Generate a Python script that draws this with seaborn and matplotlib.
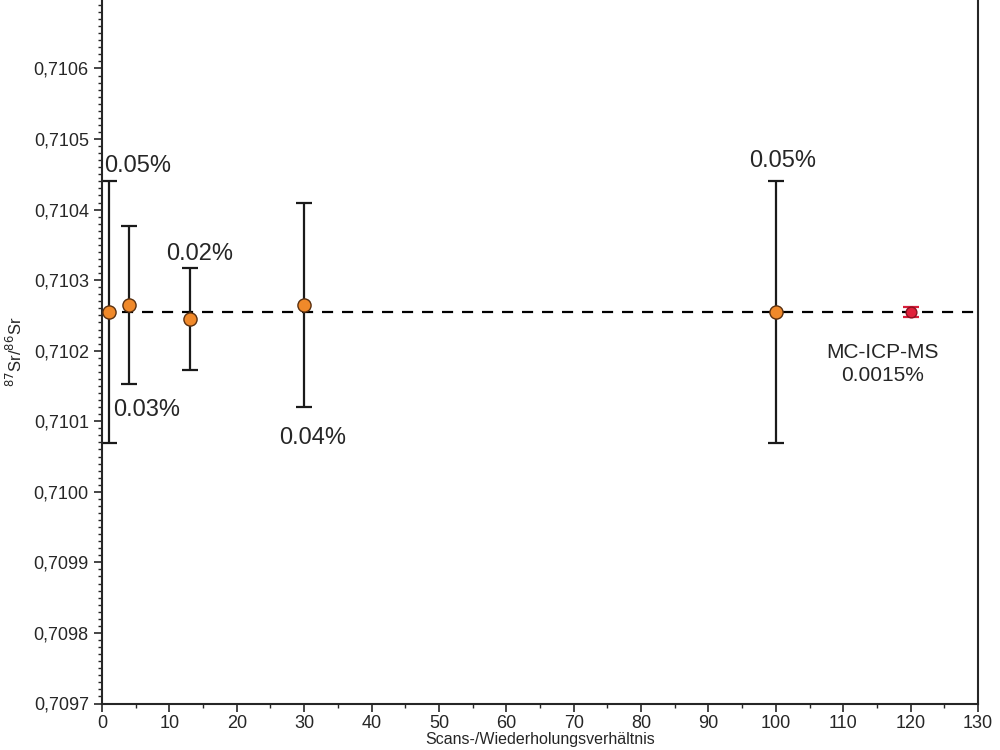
import numpy as np
import pandas as pd
import matplotlib
matplotlib.use("Agg")
import matplotlib.pyplot as plt
import seaborn as sns
from matplotlib.ticker import MultipleLocator, FuncFormatter

# values
scans = [1, 4, 13, 30, 100]
ratio = [0.710255, 0.710265, 0.710245, 0.710265, 0.710255]
err = [0.000186, 0.000112, 0.000072, 0.000145, 0.000186]
pct_labels = ["0.05%", "0.03%", "0.02%", "0.04%", "0.05%"]

mc_x = [120]
mc_y = [0.710255]
mc_err = [0.0000075]
mc_label = "MC-ICP-MS\n0.0015%"

ref_line = 0.710255

sns.set_style("ticks")
plt.rcParams['font.family'] = ['Liberation Sans', 'DejaVu Sans']

df = pd.DataFrame({"scans": scans, "ratio": ratio})

fig = plt.figure(figsize=(10, 7.5), dpi=100)
ax = fig.add_axes([0.102, 0.062, 0.876, 0.938])

ax.axhline(ref_line, color="black", ls=(0, (5, 4)), lw=1.6, zorder=1)
ax.errorbar(scans, ratio, yerr=err, fmt="none", ecolor="#1a1a1a",
            elinewidth=1.6, capsize=6, capthick=1.6, zorder=2)
ax.errorbar(mc_x, mc_y, yerr=mc_err, fmt="none", ecolor="#d81e3a",
            elinewidth=1.6, capsize=6, capthick=1.6, zorder=2)
sns.scatterplot(data=df, x="scans", y="ratio", ax=ax, s=90,
                color="#f0892a", edgecolor="#5a3010", linewidth=1, zorder=3)
sns.scatterplot(x=mc_x, y=mc_y, ax=ax, s=60, color="#e0203a",
                edgecolor="#8a1020", linewidth=1, zorder=3)

# percentage labels
ax.text(0.3, 0.710446, pct_labels[0], fontsize=17, ha="left", va="bottom")
ax.text(1.6, 0.710132, pct_labels[1], fontsize=17, ha="left", va="top")
ax.text(14.5, 0.710322, pct_labels[2], fontsize=17, ha="center", va="bottom")
ax.text(31.3, 0.710092, pct_labels[3], fontsize=17, ha="center", va="top")
ax.text(101, 0.710453, pct_labels[4], fontsize=17, ha="center", va="bottom")
ax.text(115.9, 0.710211, mc_label, fontsize=15, ha="center", va="top",
        linespacing=1.3)

ax.set_xlim(0, 130)
ax.set_ylim(0.7097, 0.710697)
ax.xaxis.set_major_locator(MultipleLocator(10))
ax.xaxis.set_minor_locator(MultipleLocator(5))
ax.yaxis.set_major_locator(MultipleLocator(0.0001))
ax.yaxis.set_minor_locator(MultipleLocator(0.00001))
ax.yaxis.set_major_formatter(FuncFormatter(lambda v, p: f"{v:.4f}".replace(".", ",")))
ax.tick_params(axis="both", which="major", labelsize=13, length=6, width=1.2)
ax.tick_params(axis="x", which="major", pad=2)
ax.tick_params(axis="both", which="minor", length=3, width=1)

ax.spines["top"].set_visible(False)
for s in ["left", "right", "bottom"]:
    ax.spines[s].set_linewidth(1.5)

ax.set_xlabel("Scans-/Wiederholungsverhältnis", fontsize=11.5, labelpad=0)
ax.set_ylabel(r"$^{87}$Sr/$^{86}$Sr", fontsize=12, labelpad=6)

fig.savefig("out.png", dpi=100)
